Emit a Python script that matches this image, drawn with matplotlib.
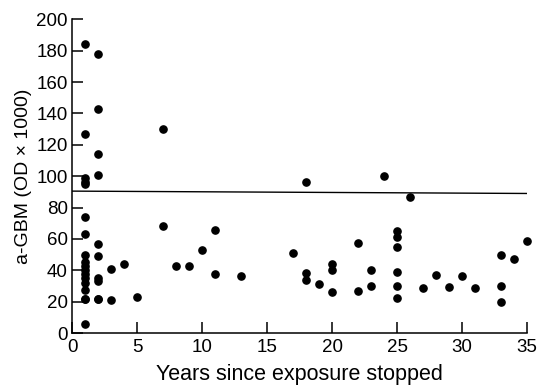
import matplotlib.pyplot as plt

plt.rcParams['font.family'] = ['Liberation Sans', 'DejaVu Sans']

# years since exposure stopped, a-GBM (OD x 1000)
years = [1, 1, 1, 1, 1, 1, 1, 1, 1, 1, 1, 1, 1, 1, 1, 1, 1, 1,
         2, 2, 2, 2, 2, 2, 2, 2, 2, 2,
         3, 3, 4, 5, 7, 7, 8, 9, 10, 11, 11, 13,
         17, 18, 18, 18, 19, 20, 20, 20, 22, 22, 23, 23, 24,
         25, 25, 25, 25, 25, 25, 26, 27, 28, 29, 30, 31, 33, 33, 33, 34, 35]
agbm = [184, 127, 99, 96, 95, 74, 63, 50, 45.5, 42.5, 40, 37.5, 35, 32, 27.5, 22, 22, 6,
        178, 143, 114, 101, 57, 49, 35, 33, 22, 22,
        41, 21, 44, 23, 130, 68, 43, 43, 53, 66, 37.5, 36.5,
        51, 96, 38, 34, 31, 44, 40, 26, 57.5, 27, 40, 30, 100,
        65, 61, 55, 39, 30, 22.5, 87, 29, 37, 29.5, 36.5, 29, 50, 30, 20, 47, 59]

cutoff_x = [0, 35]
cutoff_y = [90.5, 89]

fig = plt.figure(figsize=(5.38, 3.86), dpi=100)
ax = fig.add_axes([0.134, 0.137, 0.846, 0.813])

ax.plot(years, agbm, 'o', color='black', markersize=5.2, clip_on=False)
ax.plot(cutoff_x, cutoff_y, color='black', linewidth=1.0)

ax.set_xlim(0, 35)
ax.set_ylim(0, 200)
ax.set_xticks(range(0, 36, 5))
ax.set_yticks(range(0, 201, 20))

for s in ['top', 'right']:
    ax.spines[s].set_visible(False)
for s in ['left', 'bottom']:
    ax.spines[s].set_linewidth(1.1)

ax.tick_params(direction='in', length=8, width=1.1, labelsize=13.5)
ax.tick_params(axis='x', pad=4)
ax.tick_params(axis='y', pad=3)
ax.set_xlabel('Years since exposure stopped', fontsize=15.5, labelpad=6)
ax.set_ylabel('a-GBM (OD \u00d7 1000)', fontsize=14, labelpad=3)

fig.savefig('out.png', dpi=100)
